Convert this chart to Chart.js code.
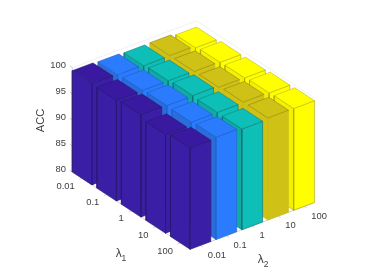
<!DOCTYPE html>
<html>
<head>
<meta charset="utf-8">
<style>
  html, body { margin: 0; padding: 0; background: #fff; }
  canvas { display: block; }
</style>
<script src="https://cdn.jsdelivr.net/npm/chart.js@4/dist/chart.umd.min.js"></script>
</head>
<body>
<canvas id="chart" width="374" height="280"></canvas>
<script>
const lambda1Labels = ['0.01', '0.1', '1', '10', '100'];
const lambda2Labels = ['0.01', '0.1', '1', '10', '100'];
const accTicks = [80, 85, 90, 95, 100];

// one list per lambda2, values run along lambda1
const accL2_001 = [99.4, 99.3, 99.6, 98.9, 99.4];
const accL2_01 = [99.25, 99.3, 99.5, 99.4, 99.6];
const accL2_1 = [99.1, 99.3, 99.55, 99.4, 99.3];
const accL2_10 = [99.15, 99.2, 99.25, 99.5, 99.55];
const accL2_100 = [98.8, 99.1, 99.2, 99.4, 99.5];
const accRows = [accL2_001, accL2_01, accL2_1, accL2_10, accL2_100];

const topColors = ['#38199f', '#2b7bff', '#0ebfb7', '#cfc115', '#ffff00'];
const leftColors = ['#3b1ea6', '#2a6cd8', '#10aaa6', '#cfc115', '#f4f000'];
const rightColors = ['#3b1ea6', '#2b7bff', '#0ebfb7', '#cfc115', '#ffff00'];
const topEdges = ['#2a1a70', '#1f5fc0', '#0d8384', '#8f8618', '#c0bc10'];
const sideEdges = ['#2a1a70', '#2464c8', '#0d6f72', '#cbbd15', '#a8a410'];

// orthographic view of the 3d box, in canvas pixels
const ORIGIN_X = 42;
const ORIGIN_Y = 168.2;
const STEP_A = [24.55, 16.1];
const STEP_B = [25.9, -9.75];
const STEP_Z = 5.22;
const BAR_HALF = 0.4;
const BOX_MIN = 0.6;
const BOX_MAX = 5.4;

function project(a, b, z) {
  return {
    x: ORIGIN_X + a * STEP_A[0] + b * STEP_B[0],
    y: ORIGIN_Y + a * STEP_A[1] + b * STEP_B[1] - (z - accTicks[0]) * STEP_Z
  };
}

function polygon(points, fillColor, lineColor, width) {
  return {
    data: [...points, points[0]],
    showLine: true,
    fill: 'shape',
    backgroundColor: fillColor,
    borderColor: lineColor,
    borderWidth: width,
    pointRadius: 0,
    tension: 0
  };
}

function segment(from, to, color, width) {
  return { data: [from, to], showLine: true, fill: false, borderColor: color, borderWidth: width, pointRadius: 0, tension: 0 };
}

function barFaces(i, j) {
  const value = accRows[j][i];
  const a0 = i + 1 - BAR_HALF;
  const a1 = i + 1 + BAR_HALF;
  const b0 = j + 1 - BAR_HALF;
  const b1 = j + 1 + BAR_HALF;
  const z0 = accTicks[0];
  return [
    polygon([project(a0, b0, z0), project(a1, b0, z0), project(a1, b0, value), project(a0, b0, value)], leftColors[j], sideEdges[j], 0.6),
    polygon([project(a1, b0, z0), project(a1, b1, z0), project(a1, b1, value), project(a1, b0, value)], rightColors[j], sideEdges[j], 0.6),
    polygon([project(a0, b0, value), project(a1, b0, value), project(a1, b1, value), project(a0, b1, value)], topColors[j], topEdges[j], 0.6)
  ];
}

function buildDatasets() {
  const zMin = accTicks[0];
  const zMax = accTicks[accTicks.length - 1];
  const list = [];

  // back walls and floor edges
  const wall = '#f1f1f1';
  const axis = '#c4c4c4';
  list.push(segment(project(BOX_MIN, BOX_MIN, zMax), project(BOX_MIN, BOX_MAX, zMax), wall, 1));
  list.push(segment(project(BOX_MIN, BOX_MAX, zMax), project(BOX_MAX, BOX_MAX, zMax), wall, 1));
  list.push(segment(project(BOX_MIN, BOX_MIN, zMin), project(BOX_MAX, BOX_MIN, zMin), axis, 0.8));
  list.push(segment(project(BOX_MAX, BOX_MIN, zMin), project(BOX_MAX, BOX_MAX, zMin), axis, 0.8));
  list.push(segment(project(BOX_MIN, BOX_MIN, zMin), project(BOX_MIN, BOX_MIN, zMax), axis, 0.8));

  lambda1Labels.forEach((_, i) => {
    list.push(segment(project(i + 1, BOX_MIN, zMin), project(i + 1, BOX_MIN - 0.1, zMin), axis, 0.8));
  });
  lambda2Labels.forEach((_, j) => {
    list.push(segment(project(BOX_MAX, j + 1, zMin), project(BOX_MAX + 0.1, j + 1, zMin), axis, 0.8));
  });
  accTicks.forEach((z) => {
    list.push(segment(project(BOX_MIN, BOX_MIN, z), project(BOX_MIN - 0.1, BOX_MIN, z), axis, 0.8));
  });

  // far bars first so the near ones cover them
  const cells = [];
  lambda1Labels.forEach((_, i) => lambda2Labels.forEach((__, j) => cells.push([i, j])));
  cells.sort((p, q) => (p[0] - p[1]) - (q[0] - q[1]));
  cells.forEach(([i, j]) => list.push(...barFaces(i, j)));

  // chart.js paints the first dataset last
  return list.reverse();
}

const axisText = {
  id: 'axisText',
  afterDatasetsDraw(chart) {
    const ctx = chart.ctx;
    const sx = chart.scales.x;
    const sy = chart.scales.y;
    const put = (text, x, y, align, size) => {
      ctx.font = `${size}px "Liberation Sans", Arial, sans-serif`;
      ctx.textAlign = align;
      ctx.textBaseline = 'middle';
      ctx.fillText(text, x, y);
    };
    ctx.save();
    ctx.fillStyle = '#404040';

    accTicks.forEach((z) => {
      const p = project(BOX_MIN, BOX_MIN, z);
      put(String(z), sx.getPixelForValue(p.x) - 6.3, sy.getPixelForValue(p.y) - 2.4, 'right', 9.4);
    });
    lambda1Labels.forEach((label, i) => {
      const p = project(i + 1, BOX_MIN, accTicks[0]);
      put(label, sx.getPixelForValue(p.x) - 7.4, sy.getPixelForValue(p.y) + 8.2, 'right', 9.4);
    });
    lambda2Labels.forEach((label, j) => {
      const p = project(BOX_MAX, j + 1, accTicks[0]);
      put(label, sx.getPixelForValue(p.x) + 7.2, sy.getPixelForValue(p.y) + 9.7, 'left', 9.4);
    });

    put('λ', 118.7, 254, 'center', 12);
    put('1', 123.8, 259, 'center', 8.5);
    put('λ', 260.7, 260, 'center', 12);
    put('2', 266, 265, 'center', 8.5);

    ctx.translate(41, 120.5);
    ctx.rotate(-Math.PI / 2);
    put('ACC', 0, 0, 'center', 11.2);
    ctx.restore();
  }
};

new Chart(document.getElementById('chart'), {
  type: 'scatter',
  data: { datasets: buildDatasets() },
  options: {
    responsive: false,
    animation: false,
    events: [],
    layout: { padding: 0 },
    plugins: {
      legend: { display: false },
      tooltip: { enabled: false },
      title: { display: false },
      filler: { drawTime: 'beforeDatasetDraw' }
    },
    scales: {
      x: { type: 'linear', min: 0, max: 374, display: false },
      y: { type: 'linear', min: 0, max: 280, reverse: true, display: false }
    }
  },
  plugins: [axisText]
});
</script>
</body>
</html>
